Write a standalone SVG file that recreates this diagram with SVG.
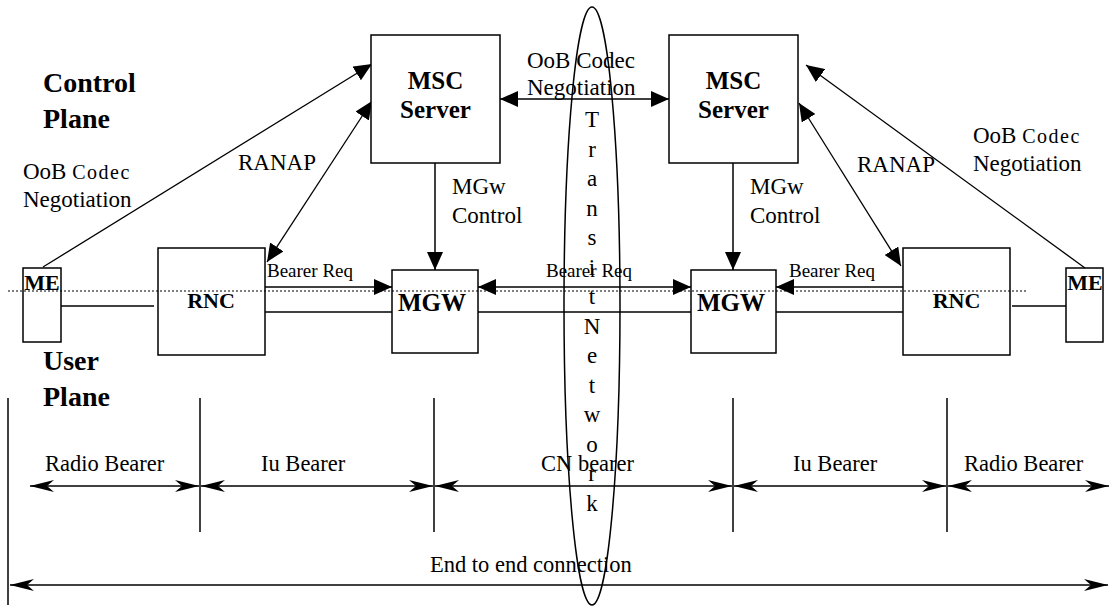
<svg xmlns="http://www.w3.org/2000/svg" width="1110" height="610" viewBox="0 0 1110 610">
<style>
.box{fill:#fff;stroke:#000;stroke-width:1.5}
.ln{stroke:#000;stroke-width:1.5;fill:none}
.thin{stroke:#000;stroke-width:1.3;fill:none}
.dot{stroke:#000;stroke-width:1;stroke-dasharray:2,2;fill:none}
.t{font-family:"Liberation Serif","Times New Roman",serif;font-size:23px;fill:#000}
.u{font-family:"Liberation Serif","Times New Roman",serif;font-size:22.5px;fill:#000}
.s{font-family:"Liberation Serif","Times New Roman",serif;font-size:19px;fill:#000}
.b{font-family:"Liberation Serif","Times New Roman",serif;font-weight:bold;fill:#000}
</style>
<defs>
<marker id="ah" viewBox="0 0 18 16" refX="18" refY="8" markerWidth="18" markerHeight="16" markerUnits="userSpaceOnUse" orient="auto-start-reverse"><path d="M0,0 L18,8 L0,16 z" fill="#000"/></marker>
<marker id="st" viewBox="0 0 24 12" refX="24" refY="6" markerWidth="24" markerHeight="12" markerUnits="userSpaceOnUse" orient="auto-start-reverse"><path d="M0,0 L24,6 L0,12 L7,6 z" fill="#000"/></marker>
</defs>

<g id="labels">
<text class="b" x="43" y="92" font-size="28">Control</text>
<text class="b" x="43" y="128" font-size="28">Plane</text>
<text class="b" x="43" y="370" font-size="28">User</text>
<text class="b" x="43" y="406" font-size="28">Plane</text>
</g>

<g id="connectors">
<line class="dot" x1="8" y1="291" x2="1028" y2="291"/>
<line class="ln" x1="61" y1="306" x2="154" y2="306"/>
<line class="ln" x1="1012" y1="306" x2="1066" y2="306"/>
<line class="ln" x1="265" y1="312" x2="392" y2="312"/>
<line class="ln" x1="478" y1="312" x2="691" y2="312"/>
<line class="ln" x1="776" y1="312" x2="903" y2="312"/>
<line class="ln" x1="265" y1="287" x2="392" y2="287" stroke-width="2" marker-end="url(#ah)"/>
<line class="ln" x1="478" y1="287" x2="691" y2="287" stroke-width="2" marker-start="url(#ah)" marker-end="url(#ah)"/>
<line class="ln" x1="903" y1="287" x2="776" y2="287" stroke-width="2" marker-end="url(#ah)"/>
<line class="ln" x1="435" y1="163" x2="435" y2="270" marker-end="url(#ah)"/>
<line class="ln" x1="733" y1="163" x2="733" y2="270" marker-end="url(#ah)"/>
<line class="ln" x1="500" y1="99" x2="669" y2="99" marker-start="url(#ah)" marker-end="url(#ah)"/>
<line class="thin" x1="43" y1="267" x2="372" y2="64" marker-end="url(#ah)"/>
<line class="thin" x1="1085" y1="268" x2="806" y2="65" marker-end="url(#ah)"/>
<line class="thin" x1="267" y1="262" x2="372" y2="101" marker-start="url(#ah)" marker-end="url(#ah)"/>
<line class="thin" x1="799" y1="103" x2="901" y2="266" marker-start="url(#ah)" marker-end="url(#ah)"/>
<line class="ln" x1="8" y1="398" x2="8" y2="605"/>
<line class="ln" x1="200" y1="398" x2="200" y2="532"/>
<line class="ln" x1="434" y1="398" x2="434" y2="532"/>
<line class="ln" x1="733" y1="398" x2="733" y2="532"/>
<line class="ln" x1="947" y1="398" x2="947" y2="532"/>
<line class="ln" x1="30" y1="486" x2="199" y2="486" marker-start="url(#st)" marker-end="url(#st)"/>
<line class="ln" x1="201" y1="486" x2="433" y2="486" marker-start="url(#st)" marker-end="url(#st)"/>
<line class="ln" x1="435" y1="486" x2="732" y2="486" marker-start="url(#st)" marker-end="url(#st)"/>
<line class="ln" x1="734" y1="486" x2="946" y2="486" marker-start="url(#st)" marker-end="url(#st)"/>
<line class="ln" x1="948" y1="486" x2="1109" y2="486" marker-start="url(#st)" marker-end="url(#st)"/>
<line class="ln" x1="10" y1="585" x2="1108" y2="585" stroke-width="2.2" marker-start="url(#st)" marker-end="url(#st)"/>
<text class="s" x="267" y="277">Bearer Req</text>
<text class="s" x="546" y="277">Bearer Req</text>
<text class="s" x="789" y="277">Bearer Req</text>
<text class="t" x="452" y="194">MGw</text>
<text class="t" x="452" y="223">Control</text>
<text class="t" x="750" y="194">MGw</text>
<text class="t" x="750" y="223">Control</text>
<text class="t" x="238" y="170">RANAP</text>
<text class="t" x="857" y="172">RANAP</text>
<text class="t" x="23" y="179">OoB <tspan font-size="20" letter-spacing="1.5">Codec</tspan></text>
<text class="t" x="23" y="207">Negotiation</text>
<text class="t" x="973" y="143">OoB <tspan font-size="20" letter-spacing="1.5">Codec</tspan></text>
<text class="t" x="973" y="171">Negotiation</text>
<text class="t" x="527" y="68">OoB Codec</text>
<text class="t" x="527" y="95">Negotiation</text>
<text class="u" x="45" y="471">Radio Bearer</text>
<text class="u" x="261" y="471">Iu Bearer</text>
<text class="u" x="541" y="471">CN bearer</text>
<text class="u" x="793" y="471">Iu Bearer</text>
<text class="u" x="964" y="471">Radio Bearer</text>
<text class="u" x="430" y="572">End to end connection</text>
</g>

<g id="msc-left">
<rect class="box" x="371" y="35" width="129" height="128"/>
<text class="b" x="435.5" y="89" font-size="25" text-anchor="middle">MSC</text>
<text class="b" x="435.5" y="118" font-size="25" text-anchor="middle">Server</text>
</g>
<g id="msc-right">
<rect class="box" x="669" y="35" width="129" height="128"/>
<text class="b" x="733.5" y="89" font-size="25" text-anchor="middle">MSC</text>
<text class="b" x="733.5" y="118" font-size="25" text-anchor="middle">Server</text>
</g>
<g id="me-left">
<rect x="23" y="268" width="38" height="74" fill="none" stroke="#000" stroke-width="1.5"/>
<text class="b" x="42" y="290" font-size="22" text-anchor="middle">ME</text>
</g>
<g id="me-right">
<rect x="1066" y="268" width="37" height="74" fill="none" stroke="#000" stroke-width="1.5"/>
<text class="b" x="1085" y="290" font-size="22" text-anchor="middle">ME</text>
</g>
<g id="rnc-left">
<rect x="158" y="248" width="107" height="107" fill="none" stroke="#000" stroke-width="1.5"/>
<text class="b" x="211" y="308" font-size="22" text-anchor="middle">RNC</text>
</g>
<g id="rnc-right">
<rect x="903" y="248" width="107" height="107" fill="none" stroke="#000" stroke-width="1.5"/>
<text class="b" x="956.5" y="308" font-size="22" text-anchor="middle">RNC</text>
</g>
<g id="mgw-left">
<rect x="392" y="270" width="86" height="83" fill="none" stroke="#000" stroke-width="1.5"/>
<text class="b" x="432" y="311" font-size="25" text-anchor="middle">MGW</text>
</g>
<g id="mgw-right">
<rect x="691" y="270" width="85" height="83" fill="none" stroke="#000" stroke-width="1.5"/>
<text class="b" x="731" y="311" font-size="25" text-anchor="middle">MGW</text>
</g>

<g id="transit-network">
<ellipse cx="592" cy="306" rx="28" ry="299" fill="none" stroke="#000" stroke-width="1.5"/>
<g class="t" text-anchor="middle">
<text x="592" y="127">T</text>
<text x="592" y="156.5">r</text>
<text x="592" y="186">a</text>
<text x="592" y="215.5">n</text>
<text x="592" y="245">s</text>
<text x="592" y="274.5">i</text>
<text x="592" y="304">t</text>
<text x="592" y="333.5">N</text>
<text x="592" y="363">e</text>
<text x="592" y="392.5">t</text>
<text x="592" y="422">w</text>
<text x="592" y="451.5">o</text>
<text x="592" y="481">r</text>
<text x="592" y="510.5">k</text>
</g>
</g>
</svg>
